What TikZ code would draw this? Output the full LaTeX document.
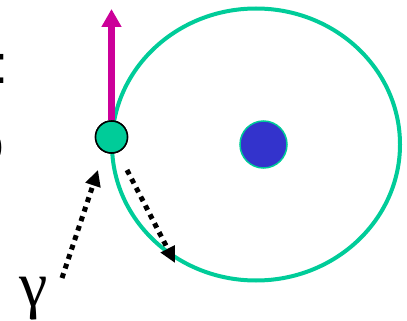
\documentclass[tikz,border=0pt]{standalone}
\usepackage{fontspec}
\setmainfont{Liberation Serif}
\newfontfamily\sansbold{Liberation Sans}
\usetikzlibrary{arrows.meta,shapes.geometric}
\definecolor{orbitgreen}{RGB}{0,204,153}
\definecolor{nucleusblue}{RGB}{51,51,204}
\definecolor{kickmagenta}{RGB}{204,0,153}
\tikzset{
  orbitline/.style={draw=orbitgreen, line width=4pt, ellipse, minimum width=288pt, minimum height=272pt, inner sep=0pt},
  electron/.style={circle, fill=orbitgreen, draw=black, line width=1.5pt, minimum size=32pt, inner sep=0pt},
  nucleus/.style={circle, fill=nucleusblue, draw=orbitgreen, line width=1.5pt, minimum size=47pt, inner sep=0pt},
  kick/.style={draw=kickmagenta, line width=7pt, -{Triangle[length=18pt,width=19pt,fill=kickmagenta]}},
  photon/.style={draw=black, line width=5pt, dash pattern=on 5pt off 5pt, -{Triangle[length=16pt,width=15pt]}},
  edgetext/.style={font=\sansbold\fontsize{55}{55}\selectfont, inner sep=0pt}
}
\begin{document}
\begin{tikzpicture}[x=1pt,y=-1pt]
\useasboundingbox (0,0) rectangle (407,321);
\clip (0,0) rectangle (407,321);
\fill[white] (0,0) rectangle (407,321);
% cut-off text at the left edge
\node[edgetext, anchor=base east] (cutA) at (8.5,84) {:};
\node[edgetext, anchor=base east] (cutB) at (4.5,162) {o};
% orbit
\node[orbitline] (orbit) at (256,144.5) {};
\node[nucleus] (nuc) at (263.5,144.5) {};
% electron with kick arrow
\coordinate (ktip) at (111.5,9);
\node[electron] (el) at (111.5,137) {};
\draw[kick] (el.north) -- (ktip);
\node[electron] at (el) {};
% photon arrows
\coordinate (pinA) at (62,278);
\coordinate (pinB) at (98,170);
\coordinate (poutA) at (127,170);
\coordinate (poutB) at (175,263);
\draw[photon] (pinA) -- (pinB);
\draw[photon] (poutA) -- (poutB);
\node[font=\fontsize{64}{64}\selectfont, inner sep=0pt] (gam) at (34,299) {γ};
\end{tikzpicture}
\end{document}
